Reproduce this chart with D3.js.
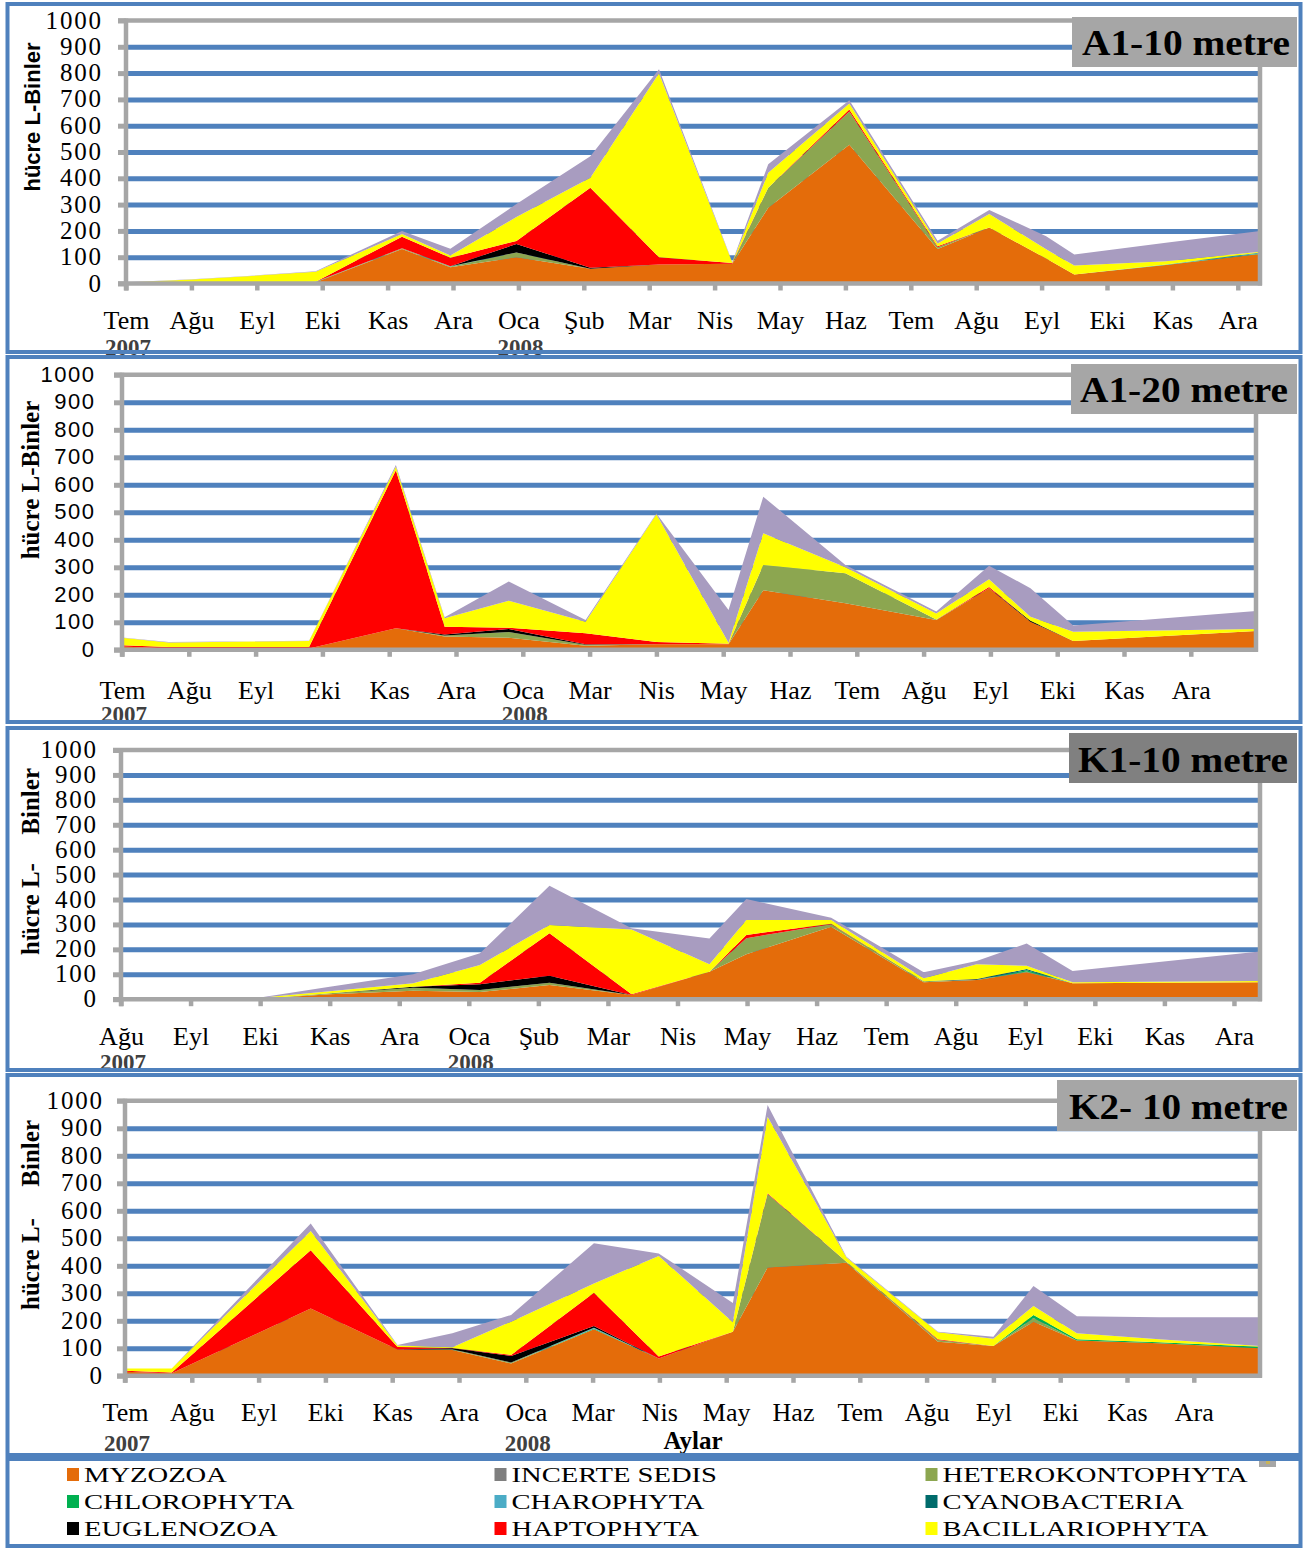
<!DOCTYPE html>
<html>
<head>
<meta charset="utf-8">
<script src="https://cdn.jsdelivr.net/npm/d3@7"></script>
<style>
  html, body { margin: 0; padding: 0; background: #ffffff; }
  svg { display: block; }
</style>
</head>
<body>
<svg id="chart" width="1313" height="1548"></svg>
<script>
// Phytoplankton groups, bottom to top of each stack
const SERIES = ["MYZOZOA", "INCERTE SEDIS", "HETEROKONTOPHYTA", "CHLOROPHYTA", "CHAROPHYTA",
                "CYANOBACTERIA", "EUGLENOZOA", "HAPTOPHYTA", "BACILLARIOPHYTA", "DİĞER"];
const LEGEND_SERIES = ["MYZOZOA", "INCERTE SEDIS", "HETEROKONTOPHYTA",
                       "CHLOROPHYTA", "CHAROPHYTA", "CYANOBACTERIA",
                       "EUGLENOZOA", "HAPTOPHYTA", "BACILLARIOPHYTA"];

// Month tick labels per station
const MONTHS_A1_10 = ["Tem","Ağu","Eyl","Eki","Kas","Ara","Oca","Şub","Mar","Nis","May","Haz","Tem","Ağu","Eyl","Eki","Kas","Ara"];
const MONTHS_A1_20 = ["Tem","Ağu","Eyl","Eki","Kas","Ara","Oca","Mar","Nis","May","Haz","Tem","Ağu","Eyl","Eki","Kas","Ara"];
const MONTHS_K1_10 = ["Ağu","Eyl","Eki","Kas","Ara","Oca","Şub","Mar","Nis","May","Haz","Tem","Ağu","Eyl","Eki","Kas","Ara"];
const MONTHS_K2_10 = ["Tem","Ağu","Eyl","Eki","Kas","Ara","Oca","Mar","Nis","May","Haz","Tem","Ağu","Eyl","Eki","Kas","Ara"];
// Year markers: [tick index, label]
const YEARS_A1_10 = [[0, "2007"], [6, "2008"]];
const YEARS_A1_20 = [[0, "2007"], [6, "2008"]];
const YEARS_K1_10 = [[0, "2007"], [5, "2008"]];
const YEARS_K2_10 = [[0, "2007"], [6, "2008"]];
const Y_TICKS = [0, 100, 200, 300, 400, 500, 600, 700, 800, 900, 1000];

// A1 – 10 m: sampling positions (in month-tick units) and abundances (x1000 cells/L)
const A1_10_POS              = [0, 1, 2, 2.9, 4.22, 4.96, 5.97, 7.1, 8.15, 9.27, 9.82, 11.06, 12.41, 13.2, 14.07, 14.5, 15.9, 17.34];
const A1_10_MYZOZOA          = [0, 0, 2, 5, 131, 62, 100, 56, 72, 75, 288, 528, 131, 213, 95, 34, 70, 112];
const A1_10_HETEROKONTOPHYTA = [0, 0, 0, 0, 3, 2, 18, 0, 0, 0, 76, 126, 7, 0, 0, 0, 0, 0];
const A1_10_CHLOROPHYTA      = [0, 0, 0, 1, 0, 1, 0, 0, 0, 0, 0, 0, 0, 0, 0, 0, 1, 2];
const A1_10_CHAROPHYTA       = [0, 0, 0, 1, 0, 1, 0, 0, 0, 0, 0, 0, 0, 0, 0, 0, 1, 2];
const A1_10_CYANOBACTERIA    = [0, 0, 0, 0, 0, 0, 0, 0, 0, 0, 0, 0, 0, 0, 0, 0, 0, 2];
const A1_10_EUGLENOZOA       = [0, 0, 0, 0, 0, 0, 32, 4, 0, 0, 0, 0, 0, 0, 0, 0, 0, 0];
const A1_10_HAPTOPHYTA       = [0, 0, 0, 0, 44, 32, 12, 304, 28, 3, 0, 8, 4, 0, 0, 0, 0, 0];
const A1_10_BACILLARIOPHYTA  = [4, 15, 28, 38, 10, 8, 91, 38, 699, 2, 57, 22, 10, 51, 35, 34, 13, 3];
const A1_10_DIGER            = [1, 1, 1, 2, 12, 26, 49, 82, 16, 2, 32, 13, 11, 15, 50, 42, 70, 79];

// A1 – 20 m
const A1_20_POS              = [0, 0.7, 2.8, 4.1, 4.83, 5.79, 6.94, 8.0, 9.08, 9.6, 10.83, 12.19, 12.98, 13.6, 14.24, 16.98];
const A1_20_MYZOZOA          = [12, 5, 5, 78, 48, 44, 15, 20, 20, 217, 169, 108, 224, 102, 32, 68];
const A1_20_HETEROKONTOPHYTA = [0, 0, 0, 0, 4, 21, 3, 0, 0, 91, 109, 2, 0, 0, 0, 0];
const A1_20_EUGLENOZOA       = [0, 0, 0, 0, 4, 11, 2, 0, 0, 0, 0, 0, 0, 4, 0, 0];
const A1_20_HAPTOPHYTA       = [5, 5, 5, 575, 28, 4, 40, 8, 2, 0, 0, 0, 4, 0, 0, 0];
const A1_20_BACILLARIOPHYTA  = [27, 17, 22, 13, 31, 98, 42, 465, 4, 116, 22, 22, 29, 14, 34, 8];
const A1_20_DIGER            = [1, 1, 1, 6, 3, 70, 6, 3, 119, 133, 8, 7, 49, 104, 22, 65];

// K1 – 10 m
const K1_10_POS              = [0, 2.0, 3.0, 4.2, 5.16, 6.16, 7.34, 8.46, 8.99, 10.21, 11.54, 12.3, 13.02, 13.68, 16.37];
const K1_10_MYZOZOA          = [0, 2, 20, 34, 29, 57, 17, 110, 180, 291, 68, 77, 108, 64, 68];
const K1_10_HETEROKONTOPHYTA = [0, 0, 4, 12, 8, 9, 0, 0, 65, 10, 4, 0, 3, 0, 0];
const K1_10_CHLOROPHYTA      = [0, 0, 0, 0, 0, 0, 0, 0, 0, 0, 0, 0, 5, 0, 0];
const K1_10_CYANOBACTERIA    = [0, 0, 0, 0, 0, 0, 0, 0, 0, 0, 0, 2, 5, 0, 0];
const K1_10_EUGLENOZOA       = [0, 0, 0, 4, 23, 28, 0, 0, 0, 0, 0, 2, 0, 0, 0];
const K1_10_HAPTOPHYTA       = [0, 0, 0, 0, 6, 171, 3, 0, 13, 2, 0, 0, 0, 0, 0];
const K1_10_BACILLARIOPHYTA  = [2, 4, 8, 14, 71, 33, 260, 30, 60, 15, 12, 59, 13, 4, 5];
const K1_10_DIGER            = [1, 1, 18, 36, 47, 157, 5, 104, 84, 9, 24, 13, 90, 45, 118];

// K2 – 10 m
const K2_10_POS              = [0, 0.7, 2.78, 4.08, 4.9, 5.78, 7.02, 7.99, 9.1, 9.62, 10.8, 12.17, 13.0, 13.6, 14.25, 15.48, 16.99];
const K2_10_MYZOZOA          = [15, 9, 245, 96, 94, 45, 169, 63, 160, 394, 411, 124, 108, 197, 128, 118, 100];
const K2_10_HETEROKONTOPHYTA = [0, 0, 0, 0, 3, 3, 0, 0, 0, 267, 4, 6, 0, 13, 0, 0, 0];
const K2_10_CHLOROPHYTA      = [0, 0, 0, 0, 0, 0, 3, 0, 0, 0, 0, 0, 0, 11, 5, 4, 6];
const K2_10_CHAROPHYTA       = [0, 0, 0, 0, 0, 0, 3, 0, 0, 0, 0, 0, 0, 0, 0, 0, 0];
const K2_10_EUGLENOZOA       = [0, 0, 0, 0, 3, 24, 6, 0, 0, 0, 0, 0, 0, 0, 0, 0, 0];
const K2_10_HAPTOPHYTA       = [3, 3, 212, 9, 1, 4, 121, 7, 0, 3, 0, 3, 0, 0, 0, 0, 0];
const K2_10_BACILLARIOPHYTA  = [9, 15, 70, 5, 3, 121, 34, 366, 35, 278, 15, 25, 27, 33, 22, 11, 2];
const K2_10_DIGER            = [0, 0, 27, 2, 51, 24, 146, 9, 70, 43, 3, 2, 7, 73, 62, 80, 105];

// ---------------------------------------------------------------------------
const COLOR = {
  "MYZOZOA": "#E46C0A",
  "INCERTE SEDIS": "#7F7F7F",
  "HETEROKONTOPHYTA": "#8CA650",
  "CHLOROPHYTA": "#00B050",
  "CHAROPHYTA": "#4BACC6",
  "CYANOBACTERIA": "#006B6B",
  "EUGLENOZOA": "#000000",
  "HAPTOPHYTA": "#FF0000",
  "BACILLARIOPHYTA": "#FFFF00",
  "DİĞER": "#A89CC0"
};
const BLUE = "#4F81BD";
const GRAY = "#A6A6A6";
const SERIF = "'Liberation Serif','Times New Roman',serif";
const SANS = "'Liberation Sans',Arial,sans-serif";

const panels = [
  {
    title: "A1-10 metre", months: MONTHS_A1_10, years: YEARS_A1_10, pos: A1_10_POS,
    layers: { "MYZOZOA": A1_10_MYZOZOA, "HETEROKONTOPHYTA": A1_10_HETEROKONTOPHYTA,
              "CHLOROPHYTA": A1_10_CHLOROPHYTA, "CHAROPHYTA": A1_10_CHAROPHYTA,
              "CYANOBACTERIA": A1_10_CYANOBACTERIA, "EUGLENOZOA": A1_10_EUGLENOZOA,
              "HAPTOPHYTA": A1_10_HAPTOPHYTA, "BACILLARIOPHYTA": A1_10_BACILLARIOPHYTA,
              "DİĞER": A1_10_DIGER },
    box: [4, 352], plotLeft: 126, plotRight: 1260, yTop: 20.5, yZero: 283.5,
    tick0: 126, tickStep: 65.4, monthBase: 329, yearBase: 355,
    yLabelRight: 101, yLabelFont: SERIF, yLabelSize: 25, yLabelSpacing: 1.8,
    titleBox: { x: 1072, y: 17, w: 225, h: 50, fill: GRAY, tx: 1082, tw: 208, tb: 55 },
    yTitle: { kind: "single", font: SANS, size: 22, x: 32, y: 117, text: "hücre L-Binler" },
    xTitle: null
  },
  {
    title: "A1-20 metre", months: MONTHS_A1_20, years: YEARS_A1_20, pos: A1_20_POS,
    layers: { "MYZOZOA": A1_20_MYZOZOA, "HETEROKONTOPHYTA": A1_20_HETEROKONTOPHYTA,
              "EUGLENOZOA": A1_20_EUGLENOZOA, "HAPTOPHYTA": A1_20_HAPTOPHYTA,
              "BACILLARIOPHYTA": A1_20_BACILLARIOPHYTA, "DİĞER": A1_20_DIGER },
    box: [357, 722], plotLeft: 122, plotRight: 1256, yTop: 374.8, yZero: 649.8,
    tick0: 122, tickStep: 66.8, monthBase: 699, yearBase: 722,
    yLabelRight: 94, yLabelFont: SANS, yLabelSize: 22, yLabelSpacing: 1.5,
    titleBox: { x: 1071, y: 364, w: 226, h: 50, fill: GRAY, tx: 1080, tw: 208, tb: 402 },
    yTitle: { kind: "single", font: SERIF, size: 25, x: 30, y: 480, text: "hücre L-Binler" },
    xTitle: null
  },
  {
    title: "K1-10 metre", months: MONTHS_K1_10, years: YEARS_K1_10, pos: K1_10_POS,
    layers: { "MYZOZOA": K1_10_MYZOZOA, "HETEROKONTOPHYTA": K1_10_HETEROKONTOPHYTA,
              "CHLOROPHYTA": K1_10_CHLOROPHYTA, "CYANOBACTERIA": K1_10_CYANOBACTERIA,
              "EUGLENOZOA": K1_10_EUGLENOZOA, "HAPTOPHYTA": K1_10_HAPTOPHYTA,
              "BACILLARIOPHYTA": K1_10_BACILLARIOPHYTA, "DİĞER": K1_10_DIGER },
    box: [728, 1070], plotLeft: 121, plotRight: 1260, yTop: 750, yZero: 999.2,
    tick0: 121, tickStep: 69.56, monthBase: 1045, yearBase: 1070,
    yLabelRight: 96, yLabelFont: SERIF, yLabelSize: 25, yLabelSpacing: 1.8,
    titleBox: { x: 1069, y: 733, w: 228, h: 50, fill: "#808080", tx: 1078, tw: 210, tb: 772 },
    yTitle: { kind: "split", font: SERIF, size: 25, x: 30, lowStart: 955, highEnd: 768,
              low: "hücre L-", high: "Binler" },
    xTitle: null
  },
  {
    title: "K2- 10 metre", months: MONTHS_K2_10, years: YEARS_K2_10, pos: K2_10_POS,
    layers: { "MYZOZOA": K2_10_MYZOZOA, "HETEROKONTOPHYTA": K2_10_HETEROKONTOPHYTA,
              "CHLOROPHYTA": K2_10_CHLOROPHYTA, "CHAROPHYTA": K2_10_CHAROPHYTA,
              "EUGLENOZOA": K2_10_EUGLENOZOA, "HAPTOPHYTA": K2_10_HAPTOPHYTA,
              "BACILLARIOPHYTA": K2_10_BACILLARIOPHYTA, "DİĞER": K2_10_DIGER },
    box: [1075, 1455], plotLeft: 125, plotRight: 1260, yTop: 1100.8, yZero: 1375.8,
    tick0: 125, tickStep: 66.8, monthBase: 1421, yearBase: 1451,
    yLabelRight: 102, yLabelFont: SERIF, yLabelSize: 25, yLabelSpacing: 1.8,
    titleBox: { x: 1057, y: 1080, w: 240, h: 51, fill: GRAY, tx: 1069, tw: 219, tb: 1119 },
    yTitle: { kind: "split", font: SERIF, size: 25, x: 30, lowStart: 1310, highEnd: 1120,
              low: "hücre L-", high: "Binler" },
    xTitle: { text: "Aylar", x: 693, y: 1449 }
  }
];

const svg = d3.select("#chart");
svg.append("rect").attr("width", 1313).attr("height", 1548).attr("fill", "#ffffff");

function drawPanel(p) {
  const g = svg.append("g");
  const n = p.months.length;
  const x = d3.scaleLinear().domain([0, n - 1])
    .range([p.tick0, p.tick0 + p.tickStep * (n - 1)]);
  const y = d3.scaleLinear().domain([0, 1000]).range([p.yZero, p.yTop]);
  const w = p.plotRight - p.plotLeft;

  // horizontal gridlines
  g.append("g")
    .attr("transform", `translate(${p.plotLeft},0)`)
    .call(d3.axisLeft(y).tickValues(Y_TICKS.filter(v => v > 0 && v < 1000)).tickSize(-w).tickFormat(""))
    .call(a => a.select(".domain").remove())
    .selectAll("line").attr("stroke", BLUE).attr("stroke-width", 5);

  // stacked areas
  const rows = p.pos.map((v, i) => {
    const r = { pos: v };
    SERIES.forEach(s => { r[s] = p.layers[s] ? p.layers[s][i] : 0; });
    return r;
  });
  const stacked = d3.stack().keys(SERIES)(rows);
  const area = d3.area()
    .x(d => x(d.data.pos))
    .y0(d => y(d[0]))
    .y1(d => y(d[1]));
  g.append("g").selectAll("path").data(stacked).join("path")
    .attr("fill", d => COLOR[d.key])
    .attr("d", area);

  // plot frame
  const frame = g.append("g").attr("stroke", GRAY).attr("stroke-width", 4.5);
  frame.append("line").attr("x1", p.plotLeft - 8).attr("x2", p.plotRight + 2)
    .attr("y1", y(1000)).attr("y2", y(1000));
  frame.append("line").attr("x1", p.plotLeft - 8).attr("x2", p.plotRight + 2)
    .attr("y1", y(0)).attr("y2", y(0));
  frame.append("line").attr("x1", p.plotLeft).attr("x2", p.plotLeft)
    .attr("y1", y(1000) - 2).attr("y2", y(0) + 7);
  frame.append("line").attr("x1", p.plotRight).attr("x2", p.plotRight)
    .attr("y1", y(1000) - 2).attr("y2", y(0) + 2);

  // y axis: gray stubs and labels
  const yAxis = g.append("g")
    .attr("transform", `translate(${p.plotLeft},0)`)
    .call(d3.axisLeft(y).tickValues(Y_TICKS).tickSize(8).tickPadding(6).tickFormat(d3.format("d")));
  yAxis.select(".domain").remove();
  yAxis.selectAll("line").attr("stroke", GRAY).attr("stroke-width", 5);
  yAxis.selectAll("text")
    .attr("x", p.yLabelRight - p.plotLeft + p.yLabelSpacing)
    .attr("dy", "0.3em")
    .attr("fill", "#000")
    .style("font-family", p.yLabelFont)
    .style("font-size", p.yLabelSize + "px")
    .style("letter-spacing", p.yLabelSpacing + "px");

  // x axis: month ticks and labels
  const xAxis = g.append("g")
    .attr("transform", `translate(0,${p.yZero})`)
    .call(d3.axisBottom(x).tickValues(d3.range(n)).tickSize(7).tickFormat(i => p.months[i]));
  xAxis.select(".domain").remove();
  xAxis.selectAll("line").attr("stroke", GRAY).attr("stroke-width", 4.5);
  xAxis.selectAll("text")
    .attr("y", p.monthBase - p.yZero)
    .attr("dy", 0)
    .attr("fill", "#000")
    .style("font-family", SERIF)
    .style("font-size", "26px");

  // year markers
  g.append("g").selectAll("text").data(p.years).join("text")
    .attr("x", d => x(d[0]) + 2)
    .attr("y", p.yearBase)
    .attr("text-anchor", "middle")
    .attr("fill", "#404040")
    .style("font-family", SERIF)
    .style("font-weight", "bold")
    .style("font-size", "23px")
    .text(d => d[1]);

  // y axis title
  const yt = p.yTitle;
  if (yt.kind === "single") {
    g.append("text")
      .attr("transform", `translate(${yt.x},${yt.y}) rotate(-90)`)
      .attr("text-anchor", "middle").attr("dy", "0.35em")
      .style("font-family", yt.font).style("font-weight", "bold")
      .style("font-size", yt.size + "px")
      .text(yt.text);
  } else {
    g.append("text")
      .attr("transform", `translate(${yt.x},${yt.lowStart}) rotate(-90)`)
      .attr("text-anchor", "start").attr("dy", "0.35em")
      .style("font-family", yt.font).style("font-weight", "bold")
      .style("font-size", yt.size + "px")
      .text(yt.low);
    g.append("text")
      .attr("transform", `translate(${yt.x},${yt.highEnd}) rotate(-90)`)
      .attr("text-anchor", "end").attr("dy", "0.35em")
      .style("font-family", yt.font).style("font-weight", "bold")
      .style("font-size", yt.size + "px")
      .text(yt.high);
  }

  // x axis title
  if (p.xTitle) {
    g.append("text")
      .attr("x", p.xTitle.x).attr("y", p.xTitle.y)
      .attr("text-anchor", "middle")
      .style("font-family", SERIF).style("font-weight", "bold").style("font-size", "25px")
      .text(p.xTitle.text);
  }

  // station label box
  const tb = p.titleBox;
  g.append("rect").attr("x", tb.x).attr("y", tb.y).attr("width", tb.w).attr("height", tb.h)
    .attr("fill", tb.fill);
  g.append("text")
    .attr("x", tb.tx).attr("y", tb.tb)
    .attr("textLength", tb.tw).attr("lengthAdjust", "spacingAndGlyphs")
    .style("font-family", SERIF).style("font-weight", "bold").style("font-size", "35px")
    .attr("fill", "#000")
    .text(p.title);
}

panels.forEach(drawPanel);

// legend
const legend = svg.append("g");
const legCols = [67, 494.5, 925.5];
const legRows = [1474, 1501, 1528];
LEGEND_SERIES.forEach((s, i) => {
  const cx = legCols[i % 3];
  const cy = legRows[Math.floor(i / 3)];
  legend.append("rect")
    .attr("x", cx).attr("y", cy - 6).attr("width", 12).attr("height", 13)
    .attr("fill", COLOR[s]);
  legend.append("text")
    .attr("transform", `translate(${cx + 17},${cy + 8}) scale(1.43,1)`)
    .style("font-family", SERIF).style("font-size", "20px")
    .attr("fill", "#000")
    .text(s);
});
// small handle mark at the legend's corner
legend.append("rect").attr("x", 1259).attr("y", 1457).attr("width", 17).attr("height", 10)
  .attr("fill", "#A6A6A6");
legend.append("rect").attr("x", 1266).attr("y", 1459).attr("width", 4).attr("height", 5)
  .attr("fill", "#C9B458");

// panel frames
const frames = panels.map(p => p.box).concat([[1459, 1546]]);
svg.append("g").selectAll("rect").data(frames).join("rect")
  .attr("x", 7.5).attr("y", d => d[0])
  .attr("width", 1293).attr("height", d => d[1] - d[0])
  .attr("fill", "none").attr("stroke", BLUE).attr("stroke-width", 4);
</script>
</body>
</html>
